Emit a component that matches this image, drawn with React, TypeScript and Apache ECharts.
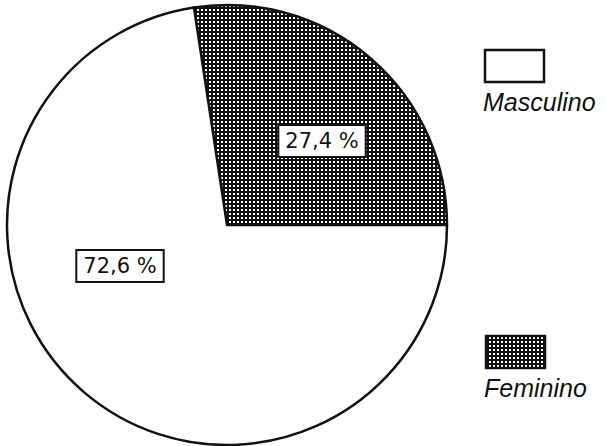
import React, { useEffect, useRef } from "react";
import * as echarts from "echarts";

const categories = ["Feminino", "Masculino"];
const values = [27.4, 72.6];
const legendOrder = ["Masculino", "Feminino"];

function makePattern(): HTMLCanvasElement {
  const c = document.createElement("canvas");
  c.width = 4;
  c.height = 4;
  const ctx = c.getContext("2d")!;
  ctx.fillStyle = "#111";
  ctx.fillRect(0, 0, 4, 4);
  ctx.fillStyle = "#fff";
  ctx.fillRect(1, 1, 2, 2);
  return c;
}

const fmt = (v: number) => v.toFixed(1).replace(".", ",") + " %";

export default function App() {
  const ref = useRef<HTMLDivElement>(null);
  useEffect(() => {
    if (!ref.current) return;
    const chart = echarts.init(ref.current, null, { renderer: "svg" });
    const pat = makePattern();
    const patternFill: any = { image: pat, repeat: "repeat", imageWidth: 4, imageHeight: 4 };
    const fills: Record<string, any> = { Feminino: patternFill, Masculino: "#ffffff" };
    const start = (values[0] / 100) * 360; // feminine slice ends at 3 o'clock

    const labelPos: Record<string, [number, number]> = {
      Feminino: [322, 141],
      Masculino: [120, 266],
    };
    const legendPos: Record<string, [number, number]> = {
      Masculino: [485, 50],
      Feminino: [486, 336],
    };

    const graphics: any[] = [];
    categories.forEach((name, i) => {
      graphics.push({
        type: "text",
        x: labelPos[name][0],
        y: labelPos[name][1],
        z: 100,
        style: {
          text: fmt(values[i]),
          font: "21px 'DejaVu Sans'",
          fill: "#111",
          align: "center",
          verticalAlign: "middle",
          backgroundColor: "#fff",
          borderColor: "#111",
          borderWidth: 2,
          padding: [5, 6, 4, 6],
        },
      });
    });
    legendOrder.forEach((name) => {
      const [x, y] = legendPos[name];
      graphics.push({
        type: "rect",
        shape: { x, y, width: 59, height: 32 },
        style: { fill: fills[name], stroke: "#111", lineWidth: 2.5 },
      });
      graphics.push({
        type: "text",
        x: x - 2,
        y: y + 52,
        style: {
          text: name,
          font: "italic 25px 'Liberation Sans'",
          fill: "#111",
          align: "left",
          verticalAlign: "middle",
        },
      });
    });

    chart.setOption({
      animation: false,
      backgroundColor: "#fff",
      series: [
        {
          type: "pie",
          center: [227, 225],
          radius: [0, 220],
          startAngle: start,
          clockwise: true,
          label: { show: false },
          labelLine: { show: false },
          emphasis: { disabled: true },
          data: categories.map((name, i) => ({
            name,
            value: values[i],
            itemStyle: { color: fills[name], borderColor: "#111", borderWidth: 2.5 },
          })),
        },
      ],
      graphic: graphics,
    });
    return () => chart.dispose();
  }, []);
  return (
    <div
      ref={ref}
      style={{ position: "fixed", left: 0, top: 0, width: 606, height: 446 }}
    />
  );
}
